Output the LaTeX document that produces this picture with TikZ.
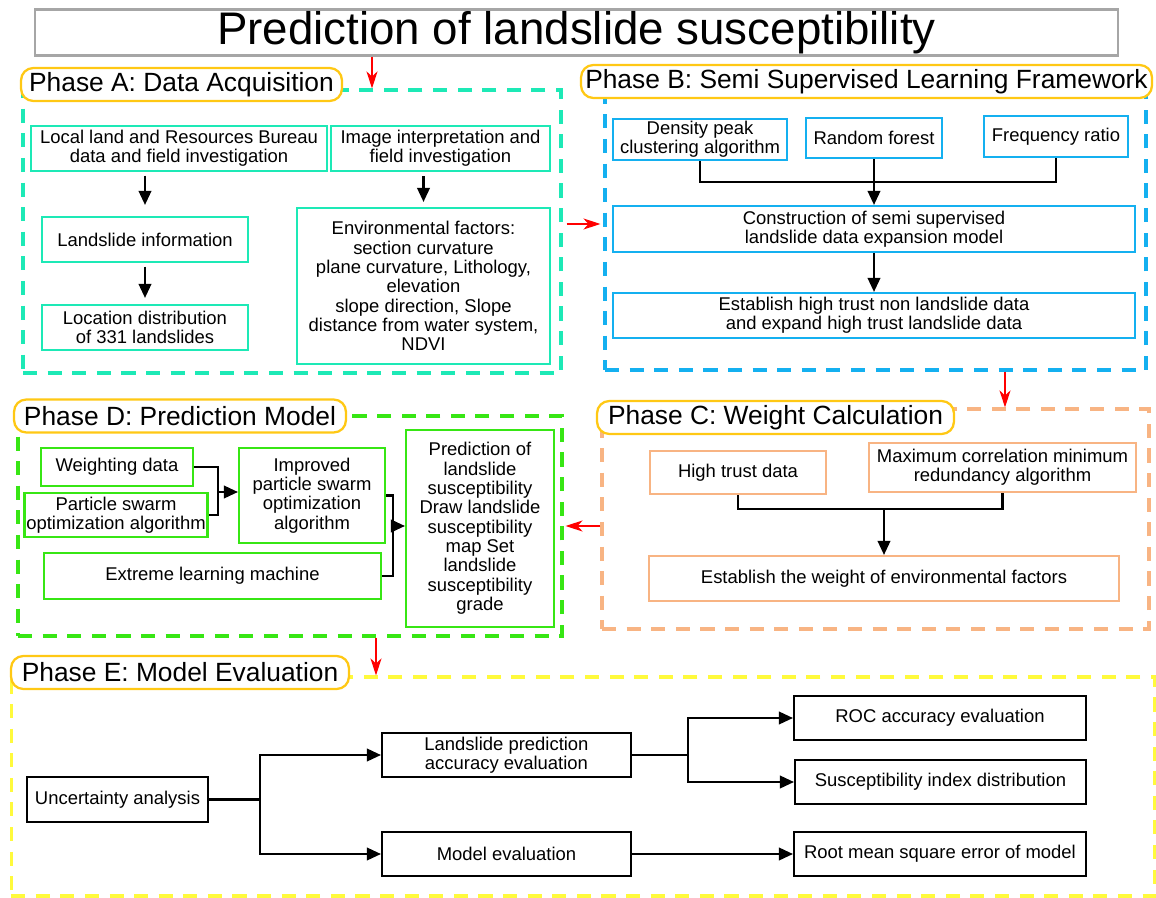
\documentclass[tikz,border=0pt]{standalone}
\usepackage{fontspec}
\setmainfont{Liberation Sans}
\usetikzlibrary{arrows.meta}
\definecolor{colA}{RGB}{29,233,182}
\definecolor{colB}{RGB}{20,176,240}
\definecolor{colC}{RGB}{248,180,131}
\definecolor{colD}{RGB}{55,230,20}
\definecolor{colE}{RGB}{255,250,60}
\definecolor{tagcol}{RGB}{255,200,20}
\begin{document}
\begin{tikzpicture}[x=0.02cm,y=-0.02cm,
    every node/.style={font=\fontsize{10.5}{11}\selectfont,align=center,inner sep=1pt},
    box/.style={draw=#1,line width=1.2pt},
    region/.style={draw=#1,line width=1.8pt,dash pattern=on 8pt off 6pt},
    tag/.style={draw=tagcol,line width=1.3pt,rounded corners=7pt,fill=white,
      font=\fontsize{15}{16}\selectfont,minimum height=0.66cm},
    link/.style={line width=1.2pt},
    arr/.style={link,-{Triangle[length=2.8mm,width=2.5mm]}},
    flow/.style={red,line width=1.2pt,-{Stealth[length=3.4mm,width=2.2mm,inset=1mm]}}]
  \useasboundingbox (0,0) rectangle (1156,898);

  % title
  \node[draw=gray!70,line width=1.2pt,minimum width=21.66cm,minimum height=0.9cm,
    font=\fontsize{26}{28}\selectfont](title) at(576.5,32.5) {Prediction of landslide susceptibility};

  % dashed phase regions
  \foreach \n/\c/\x/\y/\w/\h in {boxA/colA/292/231.5/10.76/5.66, boxB/colB/875.5/226/10.82/5.76,
      boxC/colC/875.5/519/10.94/4.4, boxD/colD/290/526/10.88/4.4, boxE/colE/583/786.5/22.88/4.38}{
    \node[region=\c,minimum width=\w cm,minimum height=\h cm](\n) at(\x,\y) {};
  }
  \foreach \n/\x/\y/\w/\txt in {tagA/181.5/84.5/6.42/{Phase A: Data Acquisition},
      tagB/866.5/81.5/11.42/{Phase B: Semi Supervised Learning Framework},
      tagC/775.5/417.5/7.14/{Phase C: Weight Calculation},
      tagD/180/416/6.64/{Phase D: Prediction Model},
      tagE/180/672.5/6.76/{Phase E: Model Evaluation}}{
    \node[tag,minimum width=\w cm](\n) at(\x,\y) {\txt};
  }

  % phase A
  \foreach \n/\x/\y/\w/\h/\txt in {
      local/179/148.5/5.92/0.9/{Local land and Resources Bureau\\data and field investigation},
      image/440.5/148.5/4.38/0.9/{Image interpretation and\\field investigation},
      info/145/239.5/4.12/0.9/{Landslide information},
      loc/145/327.5/4.12/0.9/{Location distribution\\of 331 landslides},
      env/423.5/286/5.06/3.12/{Environmental factors:\\section curvature\\plane curvature, Lithology,\\elevation\\slope direction, Slope\\distance from water system,\\NDVI}}{
    \node[box=colA,minimum width=\w cm,minimum height=\h cm](\n) at(\x,\y) {\txt};
  }
  \draw[arr,shorten <=2pt,shorten >=0.22cm](local.south -| info) -- (info.north);
  \draw[arr,shorten <=2pt,shorten >=0.12cm](info) -- (loc);
  \draw[arr,shorten <=0.08cm,shorten >=0.1cm](image.south -| env) -- (env.north);

  % phase B
  \foreach \n/\x/\y/\w/\h/\txt in {
      dens/700/139.5/3.48/0.82/{Density peak\\clustering algorithm},
      rf/874/138/2.72/0.8/{Random forest},
      fr/1056/136.5/2.88/0.82/{Frequency ratio},
      cons/874/229/10.44/0.92/{Construction of semi supervised\\landslide data expansion model},
      est/874/315.5/10.44/0.9/{Establish high trust non landslide data\\and expand high trust landslide data}}{
    \node[box=colB,minimum width=\w cm,minimum height=\h cm](\n) at(\x,\y) {\txt};
  }
  \coordinate (jB) at (874,182);
  \draw[link](dens.south) |- (jB) -| (fr.south);
  \draw[arr](rf) -- (cons);
  \draw[arr](cons) -- (est);

  % phase C
  \foreach \n/\x/\y/\w/\h/\txt in {
      high/738/472.5/3.52/0.86/{High trust data},
      maxc/1002.5/467.5/5.34/0.98/{Maximum correlation minimum\\redundancy algorithm},
      wgt/884/578.5/9.4/0.9/{Establish the weight of environmental factors}}{
    \node[box=colC,minimum width=\w cm,minimum height=\h cm](\n) at(\x,\y) {\txt};
  }
  \coordinate (jC) at (884,509);
  \draw[link](high.south) |- (jC) -| (maxc.south);
  \draw[arr](jC) -- (wgt.north);

  % phase D
  \foreach \n/\x/\y/\w/\h/\txt in {
      wd/117/467/3.04/0.76/{Weighting data},
      pso/116/515/3.64/0.88/{Particle swarm\\optimization algorithm},
      ipso/312/495.5/2.92/1.9/{Improved\\particle swarm\\optimization\\algorithm},
      elm/212.5/576/6.74/0.92/{Extreme learning machine},
      pred/480/528.5/2.96/3.94/{Prediction of\\landslide\\susceptibility\\Draw landslide\\susceptibility\\map Set\\landslide\\susceptibility\\grade}}{
    \node[box=colD,minimum width=\w cm,minimum height=\h cm](\n) at(\x,\y) {\txt};
  }
  \coordinate (jD1) at (218,492);
  \coordinate (jD2) at (393,526);
  \draw[link](wd.east) -| (jD1) |- (pso.east);
  \draw[arr](jD1) -- (ipso.west |- jD1);
  \draw[link](ipso.east) -| (jD2) |- (elm.east);
  \draw[arr](jD2) -- (pred.west |- jD2);

  % phase E
  \foreach \n/\x/\y/\w/\h/\txt in {
      unc/117.5/799.5/3.62/0.9/{Uncertainty analysis},
      lpa/506.5/755/4.98/0.88/{Landslide prediction\\accuracy evaluation},
      me/506.5/854/4.98/0.88/{Model evaluation},
      roc/940/718/5.84/0.88/{ROC accuracy evaluation},
      sid/940.5/782/5.82/0.88/{Susceptibility index distribution},
      rms/940/854/5.84/0.88/{Root mean square error of model}}{
    \node[box=black,minimum width=\w cm,minimum height=\h cm](\n) at(\x,\y) {\txt};
  }
  \coordinate (jE1) at (260,799.5);
  \coordinate (jE2) at (688,755);
  \draw[link](unc.east) -- (jE1);
  \draw[arr](jE1) |- (lpa.west);
  \draw[arr](jE1) |- (me.west);
  \draw[link](lpa.east) -- (jE2);
  \draw[arr](jE2) |- (roc.west);
  \draw[arr](jE2) |- (sid.west);
  \draw[arr](me) -- (rms);

  % red arrows between phases
  \coordinate (r1) at (372,0);
  \coordinate (r2) at (0,224);
  \coordinate (r3) at (1005,0);
  \coordinate (r4) at (0,526);
  \coordinate (r5) at (376,0);
  \draw[flow](title.south -| r1) -- (boxA.north -| r1);
  \draw[flow,shorten <=0.08cm,shorten >=0.06cm](boxA.east |- r2) -- (boxB.west |- r2);
  \draw[flow](boxB.south -| r3) -- (boxC.north -| r3);
  \draw[flow,shorten >=0.04cm](boxC.west |- r4) -- (boxD.east |- r4);
  \draw[flow](boxD.south -| r5) -- (boxE.north -| r5);
\end{tikzpicture}
\end{document}
